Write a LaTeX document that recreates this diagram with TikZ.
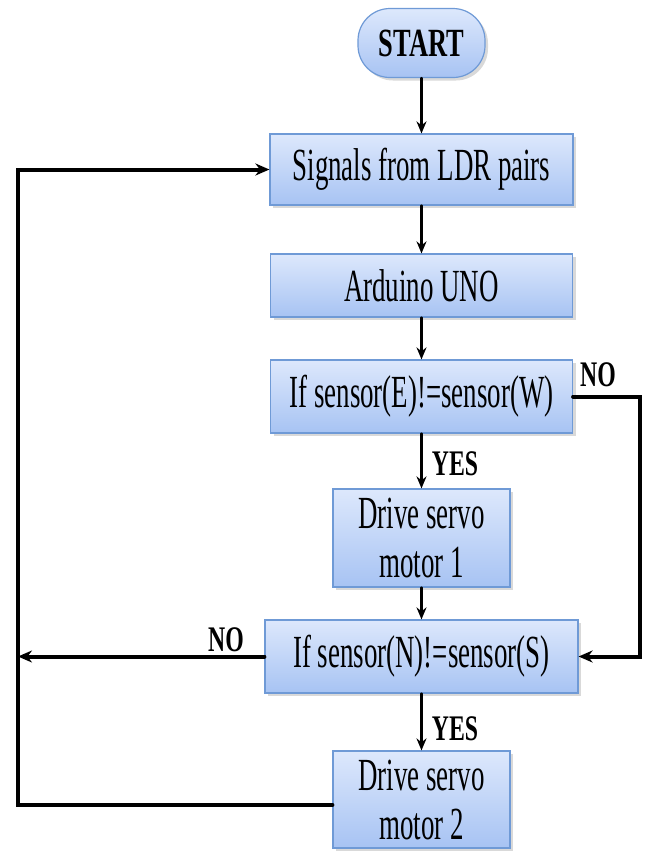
\documentclass[tikz,border=0pt]{standalone}
\usepackage{fontspec}
\setmainfont{Liberation Serif}[FakeStretch=0.585]
\newfontfamily\labelfont{Liberation Serif}[FakeStretch=0.66]
\usetikzlibrary{arrows.meta,shadows}
\definecolor{boxtop}{HTML}{DDE8FC}
\definecolor{boxbot}{HTML}{A7C3F3}
\definecolor{boxline}{HTML}{6F9AD6}
\tikzset{
  flowbox/.style={draw=boxline, line width=0.6pt, top color=boxtop, bottom color=boxbot,
    align=center, inner sep=0pt, font=\fontsize{23}{24.5}\selectfont,
    drop shadow={shadow xshift=1.5pt, shadow yshift=-1.5pt, opacity=0.3}},
  startbox/.style={flowbox, rounded corners=16pt, font=\labelfont\bfseries\fontsize{20}{22}\selectfont},
  answer/.style={font=\labelfont\bfseries\fontsize{18}{19}\selectfont, inner sep=0pt},
  flow/.style={line width=1.3pt, -{Stealth[length=6pt,width=5pt]}},
  backline/.style={line width=2pt, line join=miter, -{Stealth[length=7pt,width=6pt]}}
}
\begin{document}
\begin{tikzpicture}[x=0.5pt, y=-0.5pt, line cap=round]
  \useasboundingbox (0,0) rectangle (650,853);
  \def\xc{421.5}
  % boxes
  \node[startbox, minimum width=63.5pt, minimum height=34.5pt] (start) at (\xc,43) {START};
  \node[flowbox, minimum width=151.5pt, minimum height=35.5pt] (sig) at (\xc,169.5) {Signals from LDR pairs};
  \node[flowbox, minimum width=151pt, minimum height=31.5pt] (ard) at (\xc,285.5) {Arduino UNO};
  \node[flowbox, minimum width=151pt, minimum height=36.5pt] (ew) at (\xc,396.5) {If sensor(E)!=sensor(W)};
  \node[flowbox, minimum width=88.5pt, minimum height=49pt] (dr1) at (\xc,538) {Drive servo\\motor 1};
  \node[flowbox, minimum width=156.5pt, minimum height=36.5pt] (ns) at (\xc,656.5) {If sensor(N)!=sensor(S)};
  \node[flowbox, minimum width=88.5pt, minimum height=48.5pt] (dr2) at (\xc,799.5) {Drive servo\\motor 2};
  % answers
  \node[answer] (yes1) at (455,464) {YES};
  \node[answer] (yes2) at (455,729) {YES};
  \node[answer] (no1) at (598,375) {NO};
  \node[answer] (no2) at (226,640) {NO};
  % main flow
  \foreach \a/\b in {start/sig, sig/ard, ard/ew, ew/dr1, dr1/ns, ns/dr2}
    \draw[flow] (\a) -- (\b);
  % side lines
  \coordinate (rgt) at (640,0);
  \coordinate (lft) at (18,805);
  \draw[backline] (ew.east) -| (rgt |- ns.east) -- (ns.east);
  \draw[backline] (ns.west) -- (ns.west -| lft);
  \draw[backline] (dr2.west |- lft) -- (lft) |- (sig.west);
\end{tikzpicture}
\end{document}
